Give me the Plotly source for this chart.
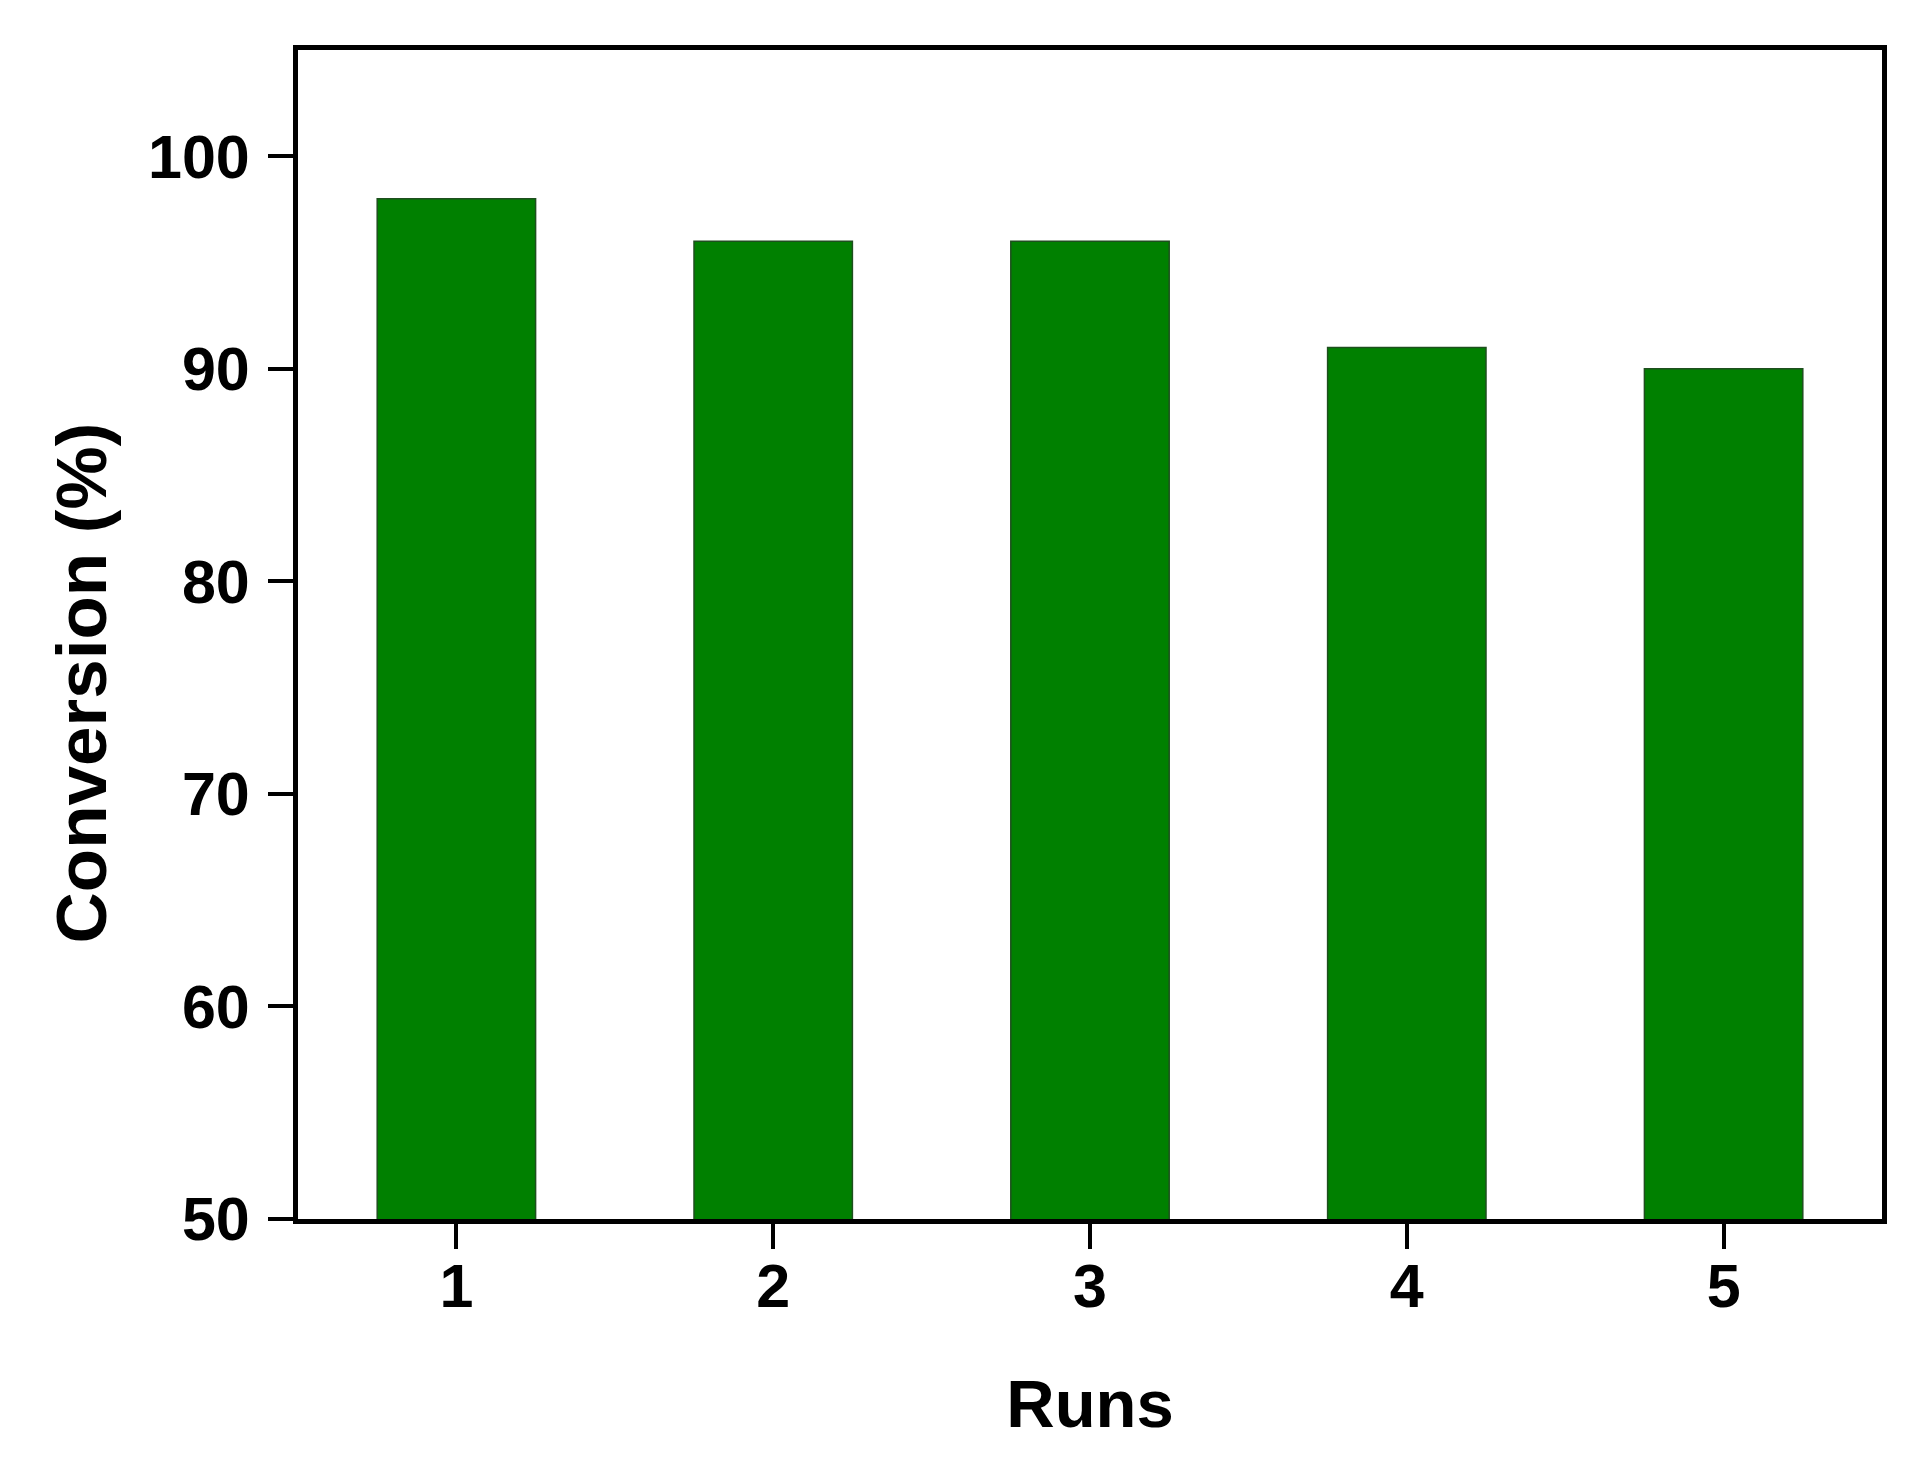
import plotly.graph_objects as go

# Recycling runs and conversion (%)
runs = [1, 2, 3, 4, 5]
conversion = [98, 96, 96, 91, 90]
y_ticks = [50, 60, 70, 80, 90, 100]

FONT = "Liberation Sans, Arial, sans-serif"

fig = go.Figure(
    go.Bar(
        x=runs,
        y=conversion,
        width=0.5,
        marker=dict(color="#008000", line=dict(color="#1e4f1e", width=1.5)),
        showlegend=False,
    )
)

axis_common = dict(
    showline=True,
    linecolor="black",
    linewidth=5,
    mirror=True,
    showgrid=False,
    zeroline=False,
    ticks="outside",
    ticklen=25,
    tickwidth=4,
    tickcolor="black",
    tickfont=dict(family=FONT, size=61, color="black", weight="bold"),
)

fig.update_xaxes(
    **axis_common,
    range=[0.5, 5.5],
    tickvals=runs,
    ticklabelstandoff=-15,
    title=dict(text="Runs", font=dict(family=FONT, size=67, color="black", weight="bold"), standoff=62),
)
fig.update_yaxes(
    **axis_common,
    range=[50, 105],
    tickvals=y_ticks,
    ticklabelstandoff=6,
)

# y title sits a bit below the axis centre in the original, so place it by hand
fig.add_annotation(
    text="Conversion (%)",
    textangle=-90,
    xref="paper", yref="paper",
    x=-0.137, y=0.459,
    xanchor="center", yanchor="middle",
    showarrow=False,
    font=dict(family=FONT, size=71, color="black", weight="bold"),
)

# page body has a small margin, so the figure is trimmed to fit the window
fig.update_layout(
    width=1920,
    height=1466,
    margin=dict(l=290, r=46, t=42, b=255),
    plot_bgcolor="white",
    paper_bgcolor="white",
)

fig.write_html("out.html")
